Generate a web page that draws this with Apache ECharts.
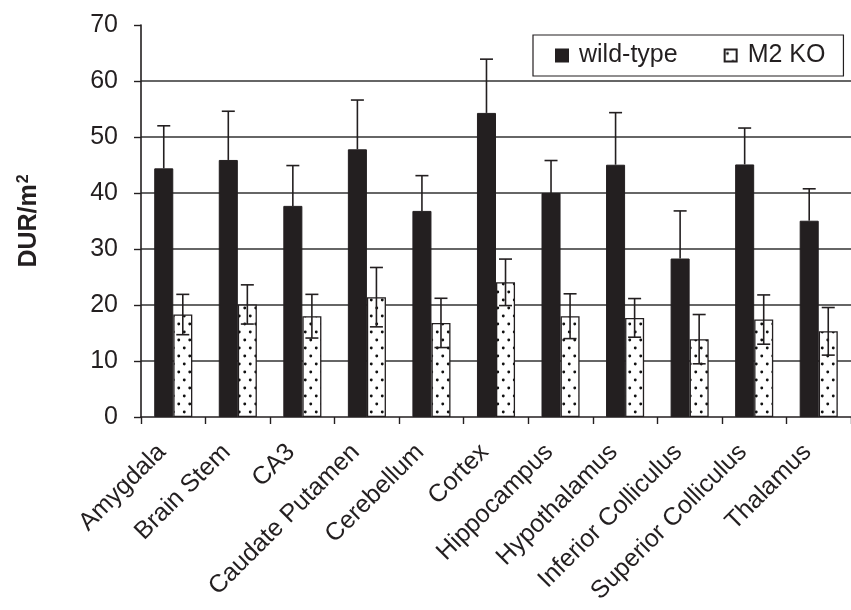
<!DOCTYPE html>
<html>
<head>
<meta charset="utf-8">
<script src="https://cdn.jsdelivr.net/npm/echarts@6/dist/echarts.min.js"></script>
<style>
html,body{margin:0;padding:0;background:#fff;}
#chart{width:851px;height:610px;}
</style>
</head>
<body>
<div id="chart"></div>
<script>
const categories = ['Amygdala', 'Brain Stem', 'CA3', 'Caudate Putamen', 'Cerebellum', 'Cortex', 'Hippocampus', 'Hypothalamus', 'Inferior Colliculus', 'Superior Colliculus', 'Thalamus'];
const wildType = [44.4, 45.9, 37.7, 47.8, 36.8, 54.3, 40.0, 45.05, 28.3, 45.1, 35.05];
const wildTypeErr = [7.6, 8.7, 7.2, 8.8, 6.3, 9.6, 5.8, 9.3, 8.5, 6.5, 5.7];
const m2ko = [18.3, 20.1, 18.0, 21.4, 16.8, 24.05, 18.0, 17.7, 13.9, 17.4, 15.3];
const m2koErr = [3.6, 3.5, 3.9, 5.3, 4.4, 4.15, 4.0, 3.45, 4.4, 4.4, 4.25];
const seriesNames = ['wild-type', 'M2 KO'];
const yTicks = { min: 0, max: 70, interval: 10 };
const yName = 'DUR/m{sup|2}';

const FONT = '"Liberation Sans", Arial, sans-serif';
const INK = '#231f20';
const CAT_GAP = 0.41;

// dotted fill pattern
const pat = document.createElement('canvas');
pat.width = 11; pat.height = 16;
const pc = pat.getContext('2d');
pc.fillStyle = '#fff'; pc.fillRect(0, 0, 11, 16);
pc.fillStyle = '#111';
pc.beginPath(); pc.arc(2.75, 4, 1.45, 0, Math.PI * 2); pc.fill();
pc.beginPath(); pc.arc(8.25, 12, 1.45, 0, Math.PI * 2); pc.fill();

function errRender(vals, errs, side, both) {
  return function (params, api) {
    const i = api.value(0);
    const v = vals[i], e = errs[i];
    const W = api.size([1, 0])[0];
    const bw = W * (1 - CAT_GAP) / 2;
    const c = api.coord([i, v]);
    const x = c[0] + side * bw / 2;
    const top = api.coord([i, v + e])[1];
    const bot = both ? api.coord([i, v - e])[1] : c[1];
    const half = 6.5;
    const style = { stroke: INK, lineWidth: 1.6 };
    const children = [
      { type: 'line', shape: { x1: x, y1: top, x2: x, y2: bot }, style: style },
      { type: 'line', shape: { x1: x - half, y1: top, x2: x + half, y2: top }, style: style }
    ];
    if (both) children.push({ type: 'line', shape: { x1: x - half, y1: bot, x2: x + half, y2: bot }, style: style });
    return { type: 'group', children: children };
  };
}

const chart = echarts.init(document.getElementById('chart'), null, { renderer: 'canvas' });
chart.setOption({
  backgroundColor: '#fff',
  animation: false,
  textStyle: { fontFamily: FONT },
  grid: { left: 141, top: 25, width: 718, height: 392 },
  legend: {
    data: seriesNames,
    left: 533, top: 35,
    orient: 'horizontal',
    padding: [8, 18, 8, 22],
    itemGap: 46,
    itemWidth: 12, itemHeight: 12,
    borderColor: INK, borderWidth: 1.2,
    backgroundColor: '#fff',
    icon: 'rect',
    textStyle: { fontSize: 25, color: INK, fontFamily: FONT, padding: [0, 0, 0, 6] }
  },
  xAxis: {
    type: 'category',
    data: categories,
    axisLine: { show: true, lineStyle: { color: INK, width: 1.6 } },
    axisTick: { show: true, length: 7, interval: 0, alignWithLabel: false, lineStyle: { color: INK, width: 1.4 } },
    axisLabel: { rotate: 45, interval: 0, fontSize: 25, color: INK, margin: 20, padding: [0, 16, 0, 0], fontFamily: FONT },
    splitLine: { show: false }
  },
  yAxis: {
    type: 'value',
    min: yTicks.min, max: yTicks.max, interval: yTicks.interval,
    name: yName,
    nameLocation: 'middle',
    nameGap: 98,
    nameTextStyle: {
      fontSize: 25, fontWeight: 'bold', color: INK, fontFamily: FONT,
      rich: { sup: { fontSize: 16, fontWeight: 'bold', color: INK, fontFamily: FONT, verticalAlign: 'bottom', padding: [0, 0, 11, 1] } }
    },
    axisLine: { show: true, lineStyle: { color: INK, width: 1.6 } },
    axisTick: { show: true, length: 7, lineStyle: { color: INK, width: 1.4 } },
    axisLabel: { fontSize: 25, color: INK, margin: 23, fontFamily: FONT },
    splitLine: { show: true, showMinLine: false, showMaxLine: false, lineStyle: { color: '#333', width: 1.7 } }
  },
  series: [
    {
      name: seriesNames[0], type: 'bar', data: wildType,
      barGap: '0%', barCategoryGap: (CAT_GAP * 100) + '%',
      itemStyle: { color: INK, borderColor: INK, borderWidth: 1 }
    },
    {
      name: seriesNames[1], type: 'bar', data: m2ko,
      itemStyle: { color: { image: pat, repeat: 'repeat' }, borderColor: INK, borderWidth: 1.3 }
    },
    {
      type: 'custom', name: 'wtErr', data: categories.map((c, i) => [i, wildType[i] + wildTypeErr[i]]),
      renderItem: errRender(wildType, wildTypeErr, -1, false), z: 5, silent: true
    },
    {
      type: 'custom', name: 'koErr', data: categories.map((c, i) => [i, m2ko[i] + m2koErr[i]]),
      renderItem: errRender(m2ko, m2koErr, 1, true), z: 5, silent: true
    }
  ]
});
</script>
</body>
</html>
